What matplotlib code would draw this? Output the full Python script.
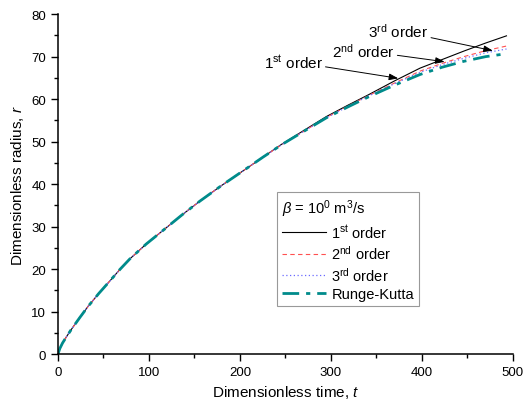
import matplotlib
matplotlib.use("Agg")
import matplotlib.pyplot as plt
from matplotlib.ticker import MultipleLocator

plt.rcParams['font.family'] = ['Liberation Sans', 'DejaVu Sans']
plt.rcParams['mathtext.fontset'] = 'custom'
plt.rcParams['mathtext.rm'] = 'Liberation Sans'
plt.rcParams['mathtext.it'] = 'Liberation Sans:italic'

# Data
t = [0, 2, 5, 10, 15, 24, 33, 45, 57, 68, 79, 97, 116, 136, 156, 180, 204,
     225, 246, 270, 295, 318, 341, 370, 398, 422, 446, 470, 493]
rk = [0, 1.3, 2.6, 4.3, 5.9, 8.6, 11.2, 14.3, 17.2, 19.9, 22.4, 25.9, 29.2,
      32.7, 36.0, 39.7, 43.2, 46.3, 49.3, 52.4, 55.6, 58.1, 60.5, 63.3, 65.8,
      67.5, 68.9, 70.0, 70.7]
first = [0, 1.3, 2.6, 4.3, 5.9, 8.6, 11.2, 14.3, 17.2, 19.9, 22.4, 25.9, 29.2,
         32.7, 36.0, 39.7, 43.2, 46.3, 49.4, 52.6, 55.9, 58.5, 61.0, 64.3, 67.3,
         69.3, 71.3, 73.2, 74.9]
second = [0, 1.3, 2.6, 4.3, 5.9, 8.6, 11.2, 14.3, 17.2, 19.9, 22.4, 25.9, 29.2,
          32.7, 36.0, 39.7, 43.2, 46.3, 49.3, 52.4, 55.7, 58.3, 60.8, 63.8, 66.6,
          68.4, 70.0, 71.4, 72.5]
third = [0, 1.3, 2.6, 4.3, 5.9, 8.6, 11.2, 14.3, 17.2, 19.9, 22.4, 25.9, 29.2,
         32.7, 36.0, 39.7, 43.2, 46.3, 49.3, 52.4, 55.6, 58.2, 60.7, 63.65, 66.3,
         68.1, 69.6, 70.9, 71.8]

fig = plt.figure(figsize=(5.32, 4.10), dpi=100)
ax = fig.add_axes([0.109, 0.134, 0.855, 0.829])

l1, = ax.plot(t, first, color='black', lw=0.8, ls='-', label='1$^{\\rm st}$ order')
l2, = ax.plot(t, second, color='#ff5050', lw=0.8, ls=(0, (4, 3)), label='2$^{\\rm nd}$ order')
l3, = ax.plot(t, third, color='#6a6aff', lw=0.9, ls=(0, (1, 2)), label='3$^{\\rm rd}$ order')
l4, = ax.plot(t, rk, color='#008b8b', lw=2.0, ls=(0, (6, 2.5, 1.5, 2.5)), label='Runge-Kutta')

ax.set_xlim(0, 500)
ax.set_ylim(0, 80)
ax.xaxis.set_major_locator(MultipleLocator(100))
ax.xaxis.set_minor_locator(MultipleLocator(50))
ax.yaxis.set_major_locator(MultipleLocator(10))
ax.yaxis.set_minor_locator(MultipleLocator(5))
ax.tick_params(which='major', direction='out', length=5, width=1, labelsize=9.5)
ax.tick_params(which='minor', direction='out', length=3, width=1)
for s in ['top', 'right']:
    ax.spines[s].set_visible(False)
for s in ['left', 'bottom']:
    ax.spines[s].set_linewidth(1.1)

ax.set_xlabel('Dimensionless time, $\\mathit{t}$', fontsize=11)
ax.set_ylabel('Dimensionless radius, $\\mathit{r}$', fontsize=11)

ap = dict(arrowstyle='-|>,head_length=0.5,head_width=0.18', color='black', lw=0.7,
          mutation_scale=11, shrinkA=0, shrinkB=0)
ax.annotate('1$^{\\rm st}$ order', xy=(374, 64.9), xytext=(291, 68.8),
            ha='right', va='center', fontsize=11, arrowprops=ap)
ax.annotate('2$^{\\rm nd}$ order', xy=(425, 68.8), xytext=(370, 71.4),
            ha='right', va='center', fontsize=11, arrowprops=ap)
ax.annotate('3$^{\\rm rd}$ order', xy=(478, 71.4), xytext=(407, 76.1),
            ha='right', va='center', fontsize=11, arrowprops=ap)

leg = ax.legend(handles=[l1, l2, l3, l4], title='$\\beta$ = 10$^{0}$ m$^{3}$/s',
                loc='upper left', bbox_to_anchor=(0.481, 0.476),
                fontsize=10.5, title_fontsize=10.5, frameon=True, fancybox=False,
                handlelength=3.0, handletextpad=0.4, borderpad=0.35,
                labelspacing=0.25, borderaxespad=0)
leg._legend_box.align = 'left'
leg.get_frame().set_edgecolor('#808080')
leg.get_frame().set_linewidth(0.8)

fig.savefig('out.png', dpi=100)
